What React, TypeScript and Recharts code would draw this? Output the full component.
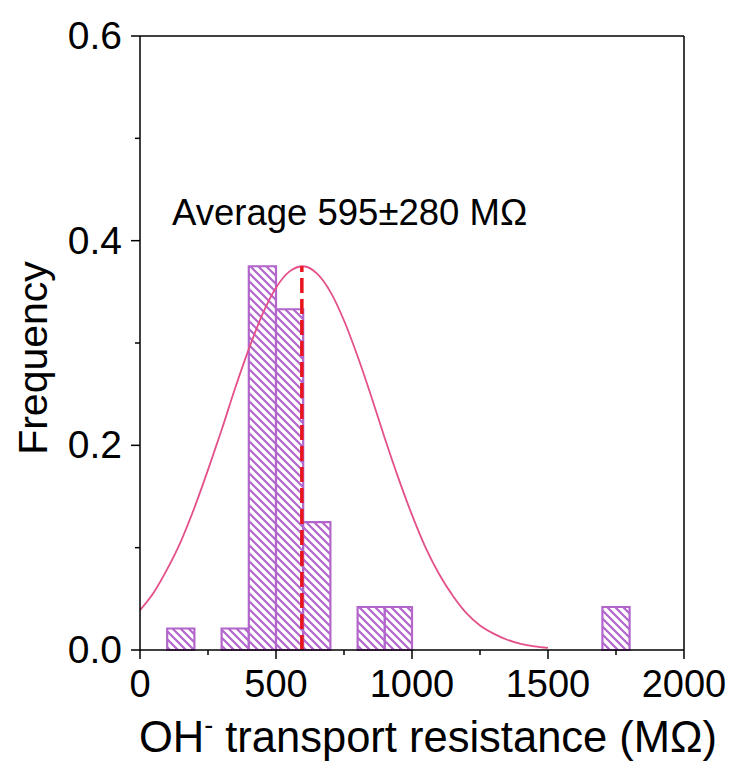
import React from "react";
import {
  ComposedChart,
  Line,
  XAxis,
  YAxis,
  ReferenceArea,
  ReferenceLine,
  ReferenceDot,
  Label,
} from "recharts";

// Histogram bins (MΩ) and frequencies
const binStart = [100, 300, 400, 500, 600, 800, 900, 1700];
const binEnd = [200, 400, 500, 600, 700, 900, 1000, 1800];
const binFreq = [0.021, 0.021, 0.375, 0.333, 0.125, 0.042, 0.042, 0.042];

// Fitted normal curve
const curveX = [
  0, 50, 100, 150, 200, 250, 300, 350, 400, 450, 500, 550, 600, 650, 700, 750,
  800, 850, 900, 950, 1000, 1050, 1100, 1150, 1200, 1250, 1300, 1350, 1400,
  1450, 1500,
];
const curveY = [
  0.039, 0.056, 0.079, 0.106, 0.139, 0.176, 0.215, 0.256, 0.294, 0.328, 0.354,
  0.37, 0.375, 0.368, 0.35, 0.322, 0.287, 0.248, 0.207, 0.168, 0.132, 0.1,
  0.074, 0.053, 0.036, 0.024, 0.016, 0.01, 0.006, 0.0035, 0.002,
];

const average = 595;
const stdev = 280;
const averageFreq = 0.375;

const xTicks = [0, 250, 500, 750, 1000, 1250, 1500, 1750, 2000];
const yTicks = [0, 0.1, 0.2, 0.3, 0.4, 0.5, 0.6];

const curveData = curveX.map((x, i) => ({ x, y: curveY[i] }));

const FONT = "'Liberation Sans', Arial, Helvetica, sans-serif";
const PURPLE = "#b266cc";

const XTick = (props: any) => {
  const { x, y, payload } = props;
  const v = payload.value;
  const major = v % 500 === 0;
  return (
    <g>
      <line x1={x} y1={y} x2={x} y2={y + (major ? 9 : 5)} stroke="#000" strokeWidth={1.5} />
      {major && (
        <text x={x} y={y + 47} textAnchor="middle" fontSize={38} fontFamily={FONT} fill="#000">
          {v}
        </text>
      )}
    </g>
  );
};

const YTick = (props: any) => {
  const { x, y, payload } = props;
  const v = payload.value;
  const major = Math.round(v * 10) % 2 === 0;
  return (
    <g>
      <line x1={x} y1={y} x2={x - (major ? 9 : 5)} y2={y} stroke="#000" strokeWidth={1.5} />
      {major && (
        <text x={x - 18} y={y + 13} textAnchor="end" fontSize={39} fontFamily={FONT} fill="#000">
          {v.toFixed(1)}
        </text>
      )}
    </g>
  );
};

export default function App() {
  return (
    <div style={{ width: 727, height: 755, background: "#fff" }}>
      <ComposedChart
        width={727}
        height={755}
        data={curveData}
        margin={{ top: 28, right: 51, bottom: 0, left: 0 }}
      >
        <defs>
          <pattern id="hatch" patternUnits="userSpaceOnUse" width={8} height={8}>
            <rect x={0} y={0} width={8} height={8} fill="#fff" />
            <path
              d="M-1,-1 L9,9 M-1,7 L1,9 M7,-1 L9,1"
              stroke={PURPLE}
              strokeWidth={2.2}
            />
          </pattern>
        </defs>
        <XAxis
          dataKey="x"
          type="number"
          domain={[0, 2000]}
          ticks={xTicks}
          interval={0}
          height={113}
          tickSize={0}
          tickMargin={0}
          tick={<XTick />}
          axisLine={{ stroke: "#000", strokeWidth: 1.5 }}
          tickLine={false}
        >
          <Label
            content={() => (
              <text x={420} y={744} textAnchor="middle" fontSize={43.5} fontFamily={FONT} fill="#000">
                OH
                <tspan fontSize={27} dy={-18}>-</tspan>
                <tspan dy={18}> transport resistance (MΩ)</tspan>
              </text>
            )}
          />
        </XAxis>
        <YAxis
          type="number"
          domain={[0, 0.6]}
          ticks={yTicks}
          interval={0}
          width={132}
          tickSize={0}
          tickMargin={0}
          tick={<YTick />}
          axisLine={{ stroke: "#000", strokeWidth: 1.5 }}
          tickLine={false}
        >
          <Label
            content={() => (
              <text
                x={39}
                y={350}
                transform="rotate(-90, 39, 350)"
                textAnchor="middle"
                fontSize={41}
                fontFamily={FONT}
                fill="#000"
              >
                Frequency
              </text>
            )}
          />
        </YAxis>
        {binStart.map((s, i) => (
          <ReferenceArea
            key={i}
            x1={s}
            x2={binEnd[i]}
            y1={0}
            y2={binFreq[i]}
            fill="url(#hatch)"
            fillOpacity={1}
            stroke={PURPLE}
            strokeWidth={2.2}
            ifOverflow="visible"
          />
        ))}
        <ReferenceLine y={0.6} stroke="#000" strokeWidth={1.5} />
        <ReferenceLine x={2000} stroke="#000" strokeWidth={1.5} />
        <Line
          dataKey="y"
          type="monotone"
          stroke="#e4508a"
          strokeWidth={1.8}
          dot={false}
          isAnimationActive={false}
        />
        <ReferenceLine
          segment={[
            { x: average, y: 0 },
            { x: average, y: averageFreq },
          ]}
          stroke="#e8141e"
          strokeWidth={3.5}
          strokeDasharray="15 6"
        />
        <ReferenceDot
          x={118}
          y={0.415}
          r={0}
          fill="none"
          stroke="none"
          label={(p: any) => (
            <text
              x={p.viewBox ? p.viewBox.x : 0}
              y={p.viewBox ? p.viewBox.y : 0}
              textAnchor="start"
              fontSize={36.5}
              fontFamily={FONT}
              fill="#000"
            >
              {`Average ${average}±${stdev} MΩ`}
            </text>
          )}
        />
      </ComposedChart>
    </div>
  );
}
